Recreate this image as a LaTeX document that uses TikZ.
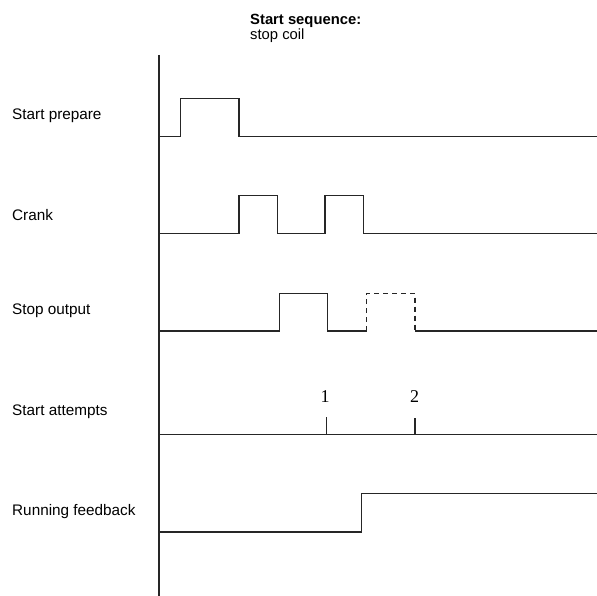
\documentclass[tikz,border=0pt]{standalone}
\usepackage{fontspec}
\setmainfont{Liberation Sans}
\newfontfamily\digitfont{Liberation Serif}
\begin{document}
\begin{tikzpicture}[x=1pt,y=-1pt,
  sig/.style={line width=1.4pt,color=black!85},
  lbl/.style={anchor=west,inner sep=0pt,font=\fontsize{15.3}{17}\selectfont},
  ttl/.style={anchor=base west,inner sep=0pt,font=\fontsize{14.8}{16}\selectfont},
  num/.style={inner sep=0pt,font=\digitfont\fontsize{18}{20}\selectfont}]
\useasboundingbox (0,0) rectangle (597,596);
% title
\node[ttl,font=\bfseries\fontsize{14.8}{16}\selectfont] (t1) at (250,25) {Start sequence:};
\node[ttl] (t2) at (250,40) {stop coil};
% axis
\draw[sig] (159,55) -- (159,596);
% labels
\node[lbl] (l1) at (12,116) {Start prepare};
\node[lbl] (l2) at (12,215) {Crank};
\node[lbl] (l3) at (12,311) {Stop output};
\node[lbl] (l4) at (12,412) {Start attempts};
\node[lbl] (l5) at (12,512) {Running feedback};
% start prepare
\draw[sig] (159,136.5) -- (180.5,136.5) -- (180.5,98.5) -- (239,98.5) -- (239,136.5) -- (597,136.5);
% crank
\draw[sig] (159,233.5) -- (239,233.5) -- (239,195.5) -- (277.5,195.5) -- (277.5,233.5) -- (325,233.5) -- (325,195.5) -- (363.5,195.5) -- (363.5,233.5) -- (597,233.5);
% stop output
\draw[sig] (159,331) -- (279.5,331) -- (279.5,293.5) -- (327.5,293.5) -- (327.5,331) -- (366.5,331);
\draw[sig,dash pattern=on 5pt off 4pt] (366.5,331) -- (366.5,293.5) -- (415,293.5) -- (415,331);
\draw[sig] (415,331) -- (597,331);
% start attempts
\draw[sig] (159,434.5) -- (597,434.5);
\draw[sig] (326.5,434.5) -- (326.5,416.5);
\draw[sig] (415,434.5) -- (415,418);
\node[num] (n1) at (325,397) {1};
\node[num] (n2) at (414.5,397) {2};
% running feedback
\draw[sig] (159,532) -- (361.5,532) -- (361.5,493.5) -- (597,493.5);
\end{tikzpicture}
\end{document}
